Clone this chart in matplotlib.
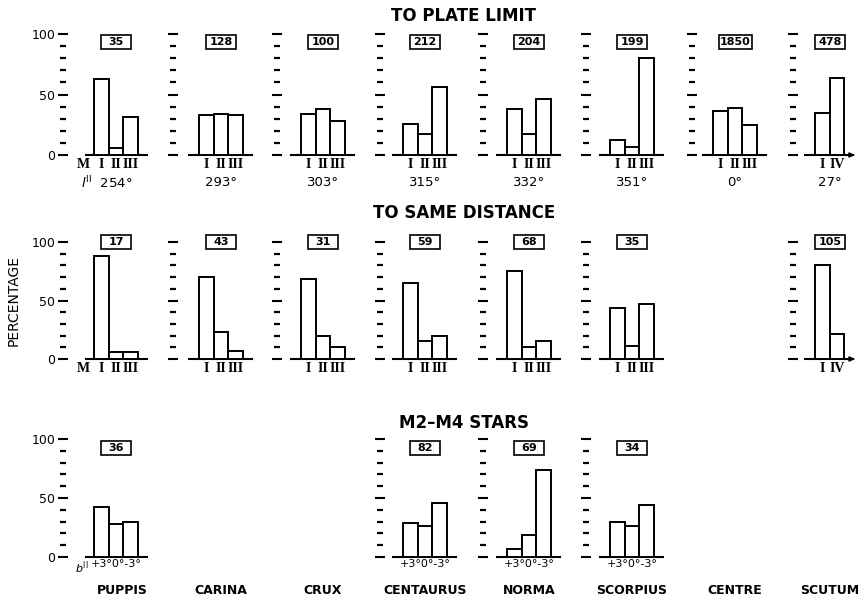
import numpy as np
import matplotlib.pyplot as plt
from matplotlib.patches import Rectangle

# regions along the galactic plane
regions = ["PUPPIS", "CARINA", "CRUX", "CENTAURUS", "NORMA", "SCORPIUS", "CENTRE", "SCUTUM"]
longitudes = ["254°", "293°", "303°", "315°", "332°", "351°", "0°", "27°"]
classes = ["I", "II", "III"]
classes_scutum = ["I", "IV"]
latitudes = ["+3°", "0°", "-3°"]

# to plate limit
plate_n = [35, 128, 100, 212, 204, 199, 1850, 478]
plate_pct = [[63, 6, 31], [33, 34, 33], [34, 38, 28], [26, 17, 56],
             [38, 17, 46], [12, 7, 80], [36, 39, 25], [35, 64]]

# to same distance
dist_n = [17, 43, 31, 59, 68, 35, None, 105]
dist_pct = [[88, 6, 6], [70, 23, 7], [68, 20, 10], [65, 15, 20],
            [75, 10, 15], [44, 11, 47], None, [80, 21]]

# M2-M4 stars by latitude
m_n = [36, None, None, 82, 69, 34, None, None]
m_pct = [[42, 28, 30], None, None, [29, 26, 46], [7, 19, 74], [30, 26, 44], None, None]

titles = ["TO PLATE LIMIT", "TO SAME DISTANCE", "M2\u2013M4 STARS"]

W, H = 865, 600
fig = plt.figure(figsize=(W / 100, H / 100), dpi=100)

tick_x = [63, 173, 277, 380, 483, 586, 692, 793]
bar_off = [31, 26, 24, 23, 24, 24, 21, 22]
bw = 14.7
base_y = [155, 359, 557]
top_y = [34, 242, 439]
box_y = [93, 100, 92]
title_y = [16, 213, 423]
panel_w = 90

SERIF = "Liberation Serif"


def draw_panel(row, col, pct, n, labels):
    span = base_y[row] - top_y[row]
    ax = fig.add_axes([tick_x[col] / W, (H - base_y[row]) / H, panel_w / W, span / H])
    x0 = -bar_off[col] / bw
    ax.set_xlim(x0, x0 + panel_w / bw)
    ax.set_ylim(0, 100)
    ax.patch.set_visible(False)
    for s in ax.spines.values():
        s.set_visible(False)
    ax.set_xticks([])
    ax.set_yticks([0, 50, 100])
    ax.set_yticks([10, 20, 30, 40, 60, 70, 80, 90], minor=True)
    ax.tick_params(axis="y", which="major", direction="inout", length=7, width=1.5, pad=2,
                   labelsize=9)
    ax.tick_params(axis="y", which="minor", direction="inout", length=4.5, width=1.6)
    if col == 0:
        ax.set_yticklabels(["0", "50", "100"])
    else:
        ax.set_yticklabels([])

    k = len(pct)
    ax.bar(np.arange(k), pct, width=1, align="edge", color="white",
           edgecolor="black", linewidth=1.4, clip_on=False, zorder=3)
    left = -0.55 if col == 0 else -0.7
    right = k + 0.6
    ax.plot([left, right], [0, 0], color="black", lw=1.5, clip_on=False, zorder=2)
    if regions[col] == "SCUTUM":
        ax.annotate("", xy=(right + 0.3, 0), xytext=(right - 0.2, 0),
                    arrowprops=dict(arrowstyle="-|>", color="black", lw=1.2,
                                    mutation_scale=7), annotation_clip=False)

    py = 100 / span  # data units per pixel
    if row < 2:
        for i, lab in enumerate(labels):
            ax.text(i + 0.5, -3 * py, lab, ha="center", va="top", family=SERIF,
                    weight="bold", fontsize=10)
        if col == 0:
            ax.text(-0.75, -3 * py, "M", ha="center", va="top", family=SERIF,
                    weight="bold", fontsize=10)
    else:
        ax.text(k / 2, -2 * py, "".join(labels), ha="center", va="top", fontsize=8)
        if col == 0:
            ax.text(-0.35, -2 * py, "$b^{\\mathrm{II}}$", ha="right", va="top",
                    fontsize=8)

    # boxed star count
    label = str(n)
    bwid, bhgt = (30 if len(label) < 4 else 33) / bw, 14 * py
    cx = k / 2
    ax.add_patch(Rectangle((cx - bwid / 2, box_y[row] - bhgt / 2), bwid, bhgt,
                           fc="white", ec="black", lw=1.2, clip_on=False))
    ax.text(cx, box_y[row], label, ha="center", va="center", fontsize=8,
            weight="bold")
    return ax


def group_center(col, k):
    return tick_x[col] + bar_off[col] + k * bw / 2


rows = [(plate_pct, plate_n), (dist_pct, dist_n), (m_pct, m_n)]
for r, (pcts, counts) in enumerate(rows):
    for c in range(len(regions)):
        if pcts[c] is None:
            continue
        if r == 2:
            labs = latitudes
        elif regions[c] == "SCUTUM":
            labs = classes_scutum
        else:
            labs = classes
        draw_panel(r, c, pcts[c], counts[c], labs)
    fig.text(464 / W, 1 - title_y[r] / H, titles[r], ha="center", va="center",
             fontsize=12, weight="bold")

# galactic longitude under the first row
for c, lon in enumerate(longitudes):
    k = len(plate_pct[c])
    x = group_center(c, k)
    txt = lon
    if c == 0:
        txt = "$\\mathit{l}^{\\mathrm{II}}$  " + lon
        x -= 9
    fig.text(x / W, 1 - 183 / H, txt, ha="center", va="center", fontsize=9.5)

# region names along the bottom
for c, name in enumerate(regions):
    k = len(plate_pct[c])
    x = group_center(c, k) + (6 if c == 0 else 0)
    fig.text(x / W, 1 - 590 / H, name, ha="center", va="center", fontsize=9,
             weight="bold")

fig.text(14 / W, 1 - 300 / H, "PERCENTAGE", rotation=90, ha="center", va="center",
         fontsize=10)

fig.savefig("out.png", dpi=100, facecolor="white")
